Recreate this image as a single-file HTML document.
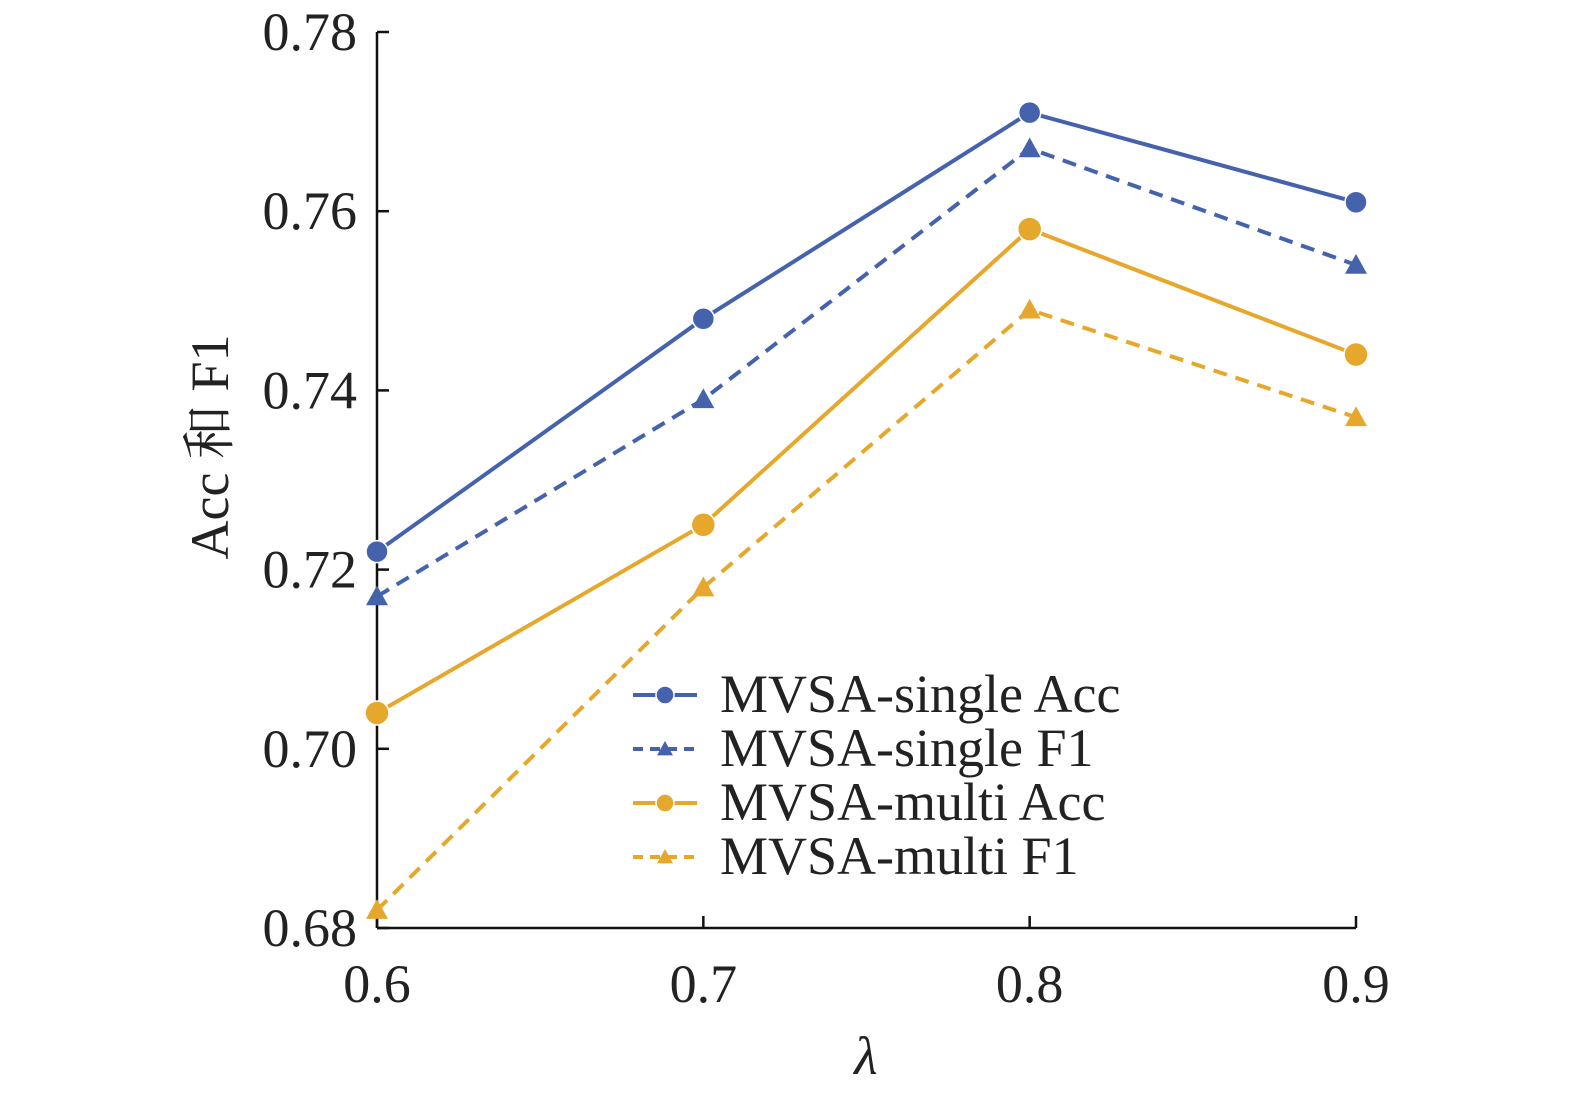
<!DOCTYPE html>
<html><head><meta charset="utf-8"><style>
body{margin:0;background:#fff}
svg{display:block}
text{font-family:"Liberation Serif","Noto Serif CJK SC",serif;fill:#222}
</style></head><body>
<svg id="chart" width="1575" height="1095" viewBox="0 0 1575 1095" xmlns="http://www.w3.org/2000/svg"></svg>
<script>
const categories=[0.6,0.7,0.8,0.9];
const singleAcc=[0.722,0.748,0.771,0.761];
const singleF1=[0.717,0.739,0.767,0.754];
const multiAcc=[0.704,0.725,0.758,0.744];
const multiF1=[0.682,0.718,0.749,0.737];
const yTicks=[0.68,0.70,0.72,0.74,0.76,0.78];
const xTickLabels=["0.6","0.7","0.8","0.9"];
const yTickLabels=["0.68","0.70","0.72","0.74","0.76","0.78"];
const seriesNames=["MVSA-single Acc","MVSA-single F1","MVSA-multi Acc","MVSA-multi F1"];

const NS="http://www.w3.org/2000/svg";
const svg=document.getElementById('chart');
const X0=377,X1=1356,Y0=928,Y1=32;
const xs=v=>X0+(v-0.6)/0.3*(X1-X0);
const ys=v=>Y0-(v-0.68)/0.1*(Y0-Y1);
function mk(tag,attrs,parent){const e=document.createElementNS(NS,tag);for(const k in attrs)e.setAttribute(k,attrs[k]);(parent||svg).appendChild(e);return e;}

const axes=mk('g',{});


let yl=mk('line',{x1:X0,y1:Y1,x2:X0,y2:Y0,stroke:'#111','stroke-width':2.5},axes);


let xl=mk('line',{x1:X0,y1:Y0,x2:X1,y2:Y0,stroke:'#111','stroke-width':2.5},axes);


yTicks.forEach((v,i)=>{
  mk('line',{x1:X0,y1:ys(v),x2:X0+12,y2:ys(v),stroke:'#111','stroke-width':2.5},axes);
  const t=mk('text',{x:X0-20,y:ys(v)+18,'text-anchor':'end','font-size':54},axes);
  t.textContent=yTickLabels[i];
  
  
});
categories.forEach((v,i)=>{
  mk('line',{x1:xs(v),y1:Y0,x2:xs(v),y2:Y0-12,stroke:'#111','stroke-width':2.5},axes);
  const t=mk('text',{x:xs(v)+0,y:Y0+74,'text-anchor':'middle','font-size':54},axes);
  t.textContent=xTickLabels[i];
  
  
});
const yt=mk('text',{x:0,y:0,'text-anchor':'middle','font-size':54,transform:'translate(228,447) rotate(-90)'});
yt.textContent="Acc 和 F1";


const xt=mk('text',{x:866,y:1074,'text-anchor':'middle','font-size':54,'font-style':'italic'});
xt.textContent="λ";



const blue="#4562ad",orange="#e6a82c";
const series=[
 {d:singleAcc,c:blue,dash:null,m:'circle',r:11},
 {d:singleF1,c:blue,dash:'14 9',m:'tri',r:11},
 {d:multiAcc,c:orange,dash:null,m:'circle',r:12},
 {d:multiF1,c:orange,dash:'14 9',m:'tri',r:11}
];
function marker(g,m,x,y,r,c){
  if(m==='circle') return mk('circle',{cx:x,cy:y,r:r,fill:c,stroke:'#fff','stroke-width':1.5},g);
  return mk('polygon',{points:`${x},${y-r} ${x+r},${y+r*0.8} ${x-r},${y+r*0.8}`,fill:c},g);
}
series.forEach((s,si)=>{
  const g=mk('g',{});
  
  
  const pts=s.d.map((v,i)=>xs(categories[i])+','+ys(v)).join(' ');
  const pl=mk('polyline',{points:pts,fill:'none',stroke:s.c,'stroke-width':4},g);
  if(s.dash)pl.setAttribute('stroke-dasharray',s.dash);
  s.d.forEach((v,i)=>{
    const p=marker(g,s.m,xs(categories[i]),ys(v),s.r,s.c);
    
    
  });
});

const leg=mk('g',{});


series.forEach((s,i)=>{
  const y=695+i*54;
  const e=mk('g',{},leg);
  
  
  const l=mk('line',{x1:633,y1:y,x2:697,y2:y,stroke:s.c,'stroke-width':4},e);
  if(s.dash)l.setAttribute('stroke-dasharray','10 7');
  marker(e,s.m,665,y,s.m==='circle'?9:8,s.c);
  const t=mk('text',{x:720,y:y+17,'font-size':54},e);
  t.textContent=seriesNames[i];
});
</script>
</body></html>
